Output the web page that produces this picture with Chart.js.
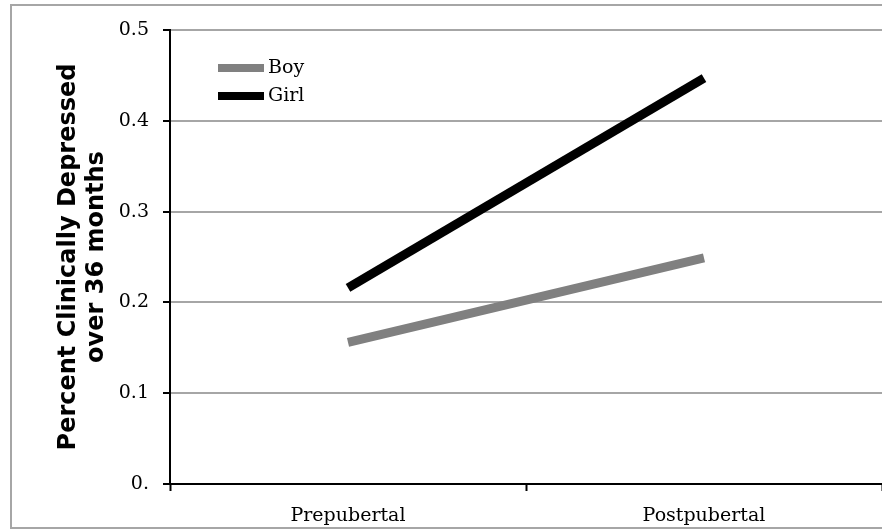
<!DOCTYPE html>
<html>
<head>
  <meta charset="UTF-8" />
  <title>Clinical depression by pubertal status</title>
  <style>
    html, body { margin: 0; padding: 0; background: #fff; overflow: hidden; }
    .frame {
      position: absolute; left: 10px; top: 4px; width: 900px; height: 525px;
      border: 2px solid #a6a6a6; box-sizing: border-box;
    }
    .wrap { position: absolute; left: 0; top: 0; width: 882px; height: 531px; }
  </style>
</head>
<body>
  <div class="frame"></div>
  <div class="wrap"><canvas id="chart"></canvas></div>

  <script src="https://cdn.jsdelivr.net/npm/chart.js"></script>
  <script>
    const categories = ["Prepubertal", "Postpubertal"];
    const boyValues = [0.156, 0.249];
    const girlValues = [0.216, 0.447];
    const yTicks = [0, 0.1, 0.2, 0.3, 0.4, 0.5];
    const yTickLabels = ["0.", "0.1", "0.2", "0.3", "0.4", "0.5"];

    const serif = "'DejaVu Serif', 'Liberation Serif', serif";

    // legend drawn inside the plot, top left, like the original
    const insideLegend = {
      id: 'insideLegend',
      afterDraw(chart) {
        const ctx = chart.ctx;
        const x0 = chart.chartArea.left + 48;
        const y0 = chart.chartArea.top + 38;
        ctx.save();
        chart.data.datasets.forEach((ds, i) => {
          const y = y0 + i * 28;
          ctx.strokeStyle = ds.borderColor;
          ctx.lineWidth = 8;
          ctx.beginPath();
          ctx.moveTo(x0, y);
          ctx.lineTo(x0 + 46, y);
          ctx.stroke();
          ctx.fillStyle = '#000';
          ctx.font = "19px " + serif;
          ctx.textBaseline = 'middle';
          ctx.fillText(ds.label, x0 + 50, y);
        });
        ctx.restore();
      }
    };

    new Chart(document.getElementById('chart'), {
      type: 'line',
      data: {
        labels: categories,
        datasets: [
          { label: 'Boy', data: boyValues, borderColor: '#808080', borderWidth: 9, pointRadius: 0, borderCapStyle: 'butt' },
          { label: 'Girl', data: girlValues, borderColor: '#000000', borderWidth: 9, pointRadius: 0, borderCapStyle: 'butt' }
        ]
      },
      options: {
        responsive: true,
        maintainAspectRatio: false,
        animation: false,
        layout: { padding: { top: 30, right: 0, left: 0, bottom: 0 } },
        plugins: {
          legend: { display: false },
          tooltip: { enabled: false }
        },
        scales: {
          x: {
            offset: true,
            grid: {
              offset: true,
              drawOnChartArea: false,
              tickColor: '#000',
              tickLength: 7,
              tickWidth: 2
            },
            border: { color: '#000', width: 2 },
            ticks: {
              color: '#000',
              padding: 14,
              font: { family: serif, size: 19 }
            },
            afterFit(scale) { scale.height = 47; }
          },
          y: {
            min: 0,
            max: 0.5,
            afterBuildTicks(scale) { scale.ticks = yTicks.map(v => ({ value: v })); },
            grid: {
              color: '#a6a6a6',
              lineWidth: 2,
              tickColor: '#000',
              tickLength: 7,
              tickWidth: 2
            },
            border: { color: '#000', width: 2 },
            ticks: {
              color: '#000',
              padding: 14,
              font: { family: serif, size: 19 },
              callback: (v, i) => yTickLabels[i]
            },
            title: {
              display: true,
              text: ['Percent Clinically Depressed', 'over 36 months'],
              color: '#000',
              font: { family: "'DejaVu Sans', Verdana, sans-serif", size: 24, weight: 'bold', lineHeight: 1.15 },
              padding: { top: 55, bottom: 0 }
            },
            afterFit(scale) { scale.width = 170; }
          }
        }
      },
      plugins: [insideLegend]
    });
  </script>
</body>
</html>
